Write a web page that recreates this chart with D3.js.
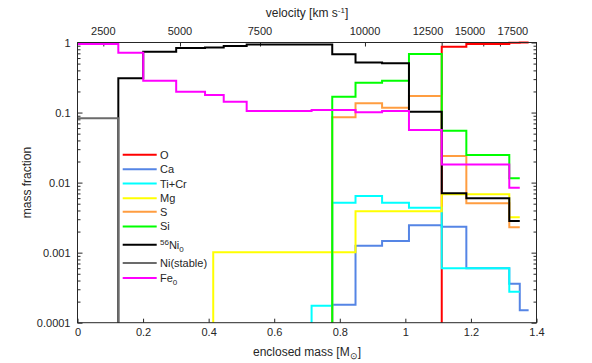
<!DOCTYPE html>
<html>
<head>
<meta charset="utf-8">
<script src="https://cdn.jsdelivr.net/npm/d3@7"></script>
<style>
  body { margin: 0; background: #fff; }
  svg { font-family: 'Liberation Sans', Arial, sans-serif; }
</style>
</head>
<body>
<div id="chart"></div>
<script>
// zone edges in enclosed mass (Msun)
const massEdges = [0, 0.1245, 0.2005, 0.301, 0.389, 0.414, 0.446, 0.516, 0.714,
  0.777, 0.848, 0.929, 1.011, 1.111, 1.186, 1.317, 1.349, 1.376];

// 1e-9 = below the axis (line drops to the floor), null = no data
const Z = 1e-9;
const oxygen = [Z, Z, Z, Z, Z, Z, Z, Z, Z, Z, Z, Z, Z, 0.87, 0.95, 0.99, 1.0];
const calcium = [Z, Z, Z, Z, Z, Z, Z, Z, Z, 0.00018, 0.00125, 0.00147, 0.00246, 0.00235, 0.0006, 0.00036, 0.00015];
const tiCr = [Z, Z, Z, Z, Z, Z, Z, Z, 0.000175, 0.00516, 0.00645, 0.00516, 0.00438, 0.000598, 0.000598, 0.000277, null];
const magnesium = [Z, Z, Z, Z, Z, 0.00101, 0.00101, 0.00101, 0.00101, 0.00101, 0.0039, 0.0039, 0.0039, 0.0068, 0.0068, 0.0032, null];
const sulfur = [Z, Z, Z, Z, Z, Z, Z, Z, Z, 0.0855, 0.1355, 0.117, 0.172, 0.024, 0.00507, 0.0023, null];
const silicon = [Z, Z, Z, Z, Z, Z, Z, Z, Z, 0.168, 0.267, 0.285, 0.685, 0.055, 0.0248, 0.0115, null];
const nickel56 = [Z, 0.308, 0.74, 0.835, 0.85, 0.85, 0.89, 0.94, 0.94, 0.68, 0.52, 0.505, 0.103, 0.00703, 0.006, 0.00283, null];
const nickelStable = [0.083, Z, null, null, null, null, null, null, null, null, null, null, null, null, null, null, null];
const iron0 = [0.95, 0.715, 0.285, 0.198, 0.178, 0.178, 0.143, 0.105, 0.109, 0.109, 0.101, 0.105, 0.0563, 0.0182, 0.0182, 0.00846, null];

const series = [
  { name: 'O', values: oxygen, colour: '#ff0000' },
  { name: 'Ca', values: calcium, colour: '#5585e5' },
  { name: 'Ti+Cr', values: tiCr, colour: '#00ffff' },
  { name: 'Mg', values: magnesium, colour: '#ffff00' },
  { name: 'S', values: sulfur, colour: '#ff9d40' },
  { name: 'Si', values: silicon, colour: '#00ff00' },
  { name: 'Ni56', values: nickel56, colour: '#000000' },
  { name: 'Ni(stable)', values: nickelStable, colour: '#6b6b6b' },
  { name: 'Fe0', values: iron0, colour: '#ff00ff' }
];

const massTicks = [0, 0.2, 0.4, 0.6, 0.8, 1, 1.2, 1.4];
const fracTicks = [0.0001, 0.001, 0.01, 0.1, 1];
// top axis: velocity ticks, their mass positions, and where the labels sit
const velTicks = [2500, 5000, 7500, 10000, 12500, 15000, 17500];
const velTickMass = [0.0787, 0.3126, 0.5566, 0.8768, 1.1107, 1.2376, 1.2885];
const velLabelMass = [0.0787, 0.3126, 0.5566, 0.8768, 1.069, 1.197, 1.328];

const width = 592;
const height = 363;
const plotLeft = 77.5, plotRight = 536.5, plotTop = 42.5, plotBottom = 322.7;
const axisColour = '#262626';

const svg = d3.select('#chart')
  .append('svg')
  .attr('width', width)
  .attr('height', height);

const x = d3.scaleLinear().domain([0, 1.4]).range([plotLeft, plotRight]);
const y = d3.scaleLog().domain([1e-4, 1]).range([plotBottom, plotTop]);

svg.append('defs')
  .append('clipPath')
  .attr('id', 'plotClip')
  .append('rect')
  .attr('x', plotLeft)
  .attr('y', plotTop - 4)
  .attr('width', plotRight - plotLeft + 4)
  .attr('height', plotBottom - plotTop + 4);

// minor log ticks
const minorTicks = [];
for (let p = -4; p < 0; p++) {
  for (let m = 2; m <= 9; m++) minorTicks.push(m * Math.pow(10, p));
}

const styleAxis = g => {
  g.select('.domain').remove();
  g.selectAll('line').attr('stroke', axisColour);
  g.selectAll('text')
    .attr('fill', axisColour)
    .style('font-size', '11px')
    .style('font-family', "'Liberation Sans', Arial, sans-serif");
};

// left axis
svg.append('g')
  .attr('transform', 'translate(' + plotLeft + ',0)')
  .call(d3.axisLeft(y).tickValues(fracTicks).tickFormat(d => String(d)).tickSize(-5).tickPadding(7))
  .call(styleAxis);
svg.append('g')
  .attr('transform', 'translate(' + plotLeft + ',0)')
  .call(d3.axisLeft(y).tickValues(minorTicks).tickFormat('').tickSize(-3))
  .call(styleAxis);

// right axis (mirror ticks)
svg.append('g')
  .attr('transform', 'translate(' + plotRight + ',0)')
  .call(d3.axisRight(y).tickValues(fracTicks).tickFormat('').tickSize(-5))
  .call(styleAxis);
svg.append('g')
  .attr('transform', 'translate(' + plotRight + ',0)')
  .call(d3.axisRight(y).tickValues(minorTicks).tickFormat('').tickSize(-3))
  .call(styleAxis);

// bottom axis
svg.append('g')
  .attr('transform', 'translate(0,' + plotBottom + ')')
  .call(d3.axisBottom(x).tickValues(massTicks).tickFormat(d => String(d)).tickSize(-4).tickPadding(6))
  .call(styleAxis);

// top axis: velocity
svg.append('g')
  .attr('transform', 'translate(0,' + plotTop + ')')
  .call(d3.axisTop(x).tickValues(velTickMass).tickFormat('').tickSize(-4))
  .call(styleAxis);

svg.append('g')
  .selectAll('text')
  .data(velTicks)
  .enter()
  .append('text')
  .attr('x', (d, i) => x(velLabelMass[i]))
  .attr('y', plotTop - 8)
  .attr('text-anchor', 'middle')
  .attr('fill', axisColour)
  .style('font-size', '11px')
  .text(d => d);

// data lines
const line = d3.line()
  .x(d => x(d[0]))
  .y(d => y(d[1]))
  .curve(d3.curveStepAfter);

const toPoints = values => {
  const pts = [];
  let last = null;
  values.forEach((v, i) => {
    if (v === null) return;
    pts.push([massEdges[i], v]);
    last = i;
  });
  pts.push([massEdges[last + 1], values[last]]);
  return pts;
};

svg.append('g')
  .attr('clip-path', 'url(#plotClip)')
  .selectAll('path')
  .data(series)
  .enter()
  .append('path')
  .attr('d', d => line(toPoints(d.values)))
  .attr('fill', 'none')
  .attr('stroke', d => d.colour)
  .attr('stroke-width', 2)
  .attr('stroke-linejoin', 'miter');

// frame
svg.append('rect')
  .attr('x', plotLeft)
  .attr('y', plotTop)
  .attr('width', plotRight - plotLeft)
  .attr('height', plotBottom - plotTop)
  .attr('fill', 'none')
  .attr('stroke', axisColour)
  .attr('stroke-width', 1);

// axis titles
svg.append('text')
  .attr('x', (plotLeft + plotRight) / 2)
  .attr('y', 356)
  .attr('text-anchor', 'middle')
  .attr('fill', axisColour)
  .style('font-size', '12px')
  .call(t => {
    t.append('tspan').text('enclosed mass [M');
    t.append('tspan').attr('dy', 3).style('font-size', '9px').text('\u2299');
    t.append('tspan').attr('dy', -3).text(']');
  });

svg.append('text')
  .attr('transform', 'translate(31,' + (plotTop + plotBottom) / 2 + ') rotate(-90)')
  .attr('text-anchor', 'middle')
  .attr('fill', axisColour)
  .style('font-size', '12px')
  .text('mass fraction');

svg.append('text')
  .attr('x', (plotLeft + plotRight) / 2)
  .attr('y', 17)
  .attr('text-anchor', 'middle')
  .attr('fill', axisColour)
  .style('font-size', '12px')
  .call(t => {
    t.append('tspan').text('velocity [km s');
    t.append('tspan').attr('dy', -4).style('font-size', '8px').text('-1');
    t.append('tspan').attr('dy', 4).text(']');
  });

// legend
const legendGaps = [0, 14.6, 14.3, 14.6, 13.6, 14.6, 18.3, 18.3, 15];
let legendY = 154.7;
const legend = svg.append('g');
series.forEach((s, i) => {
  legendY += legendGaps[i];
  const row = legend.append('g').attr('transform', 'translate(0,' + legendY + ')');
  row.append('line')
    .attr('x1', 122.7)
    .attr('x2', 156.7)
    .attr('stroke', s.colour)
    .attr('stroke-width', 2);
  const label = row.append('text')
    .attr('x', 160)
    .attr('y', 4)
    .attr('fill', axisColour)
    .style('font-size', '11px');
  if (s.name === 'Ni56') {
    label.append('tspan').attr('dy', -4).style('font-size', '8px').text('56');
    label.append('tspan').attr('dy', 4).text('Ni');
    label.append('tspan').attr('dy', 3).style('font-size', '8px').text('0');
  } else if (s.name === 'Fe0') {
    label.append('tspan').text('Fe');
    label.append('tspan').attr('dy', 3).style('font-size', '8px').text('0');
  } else {
    label.text(s.name);
  }
});
</script>
</body>
</html>
